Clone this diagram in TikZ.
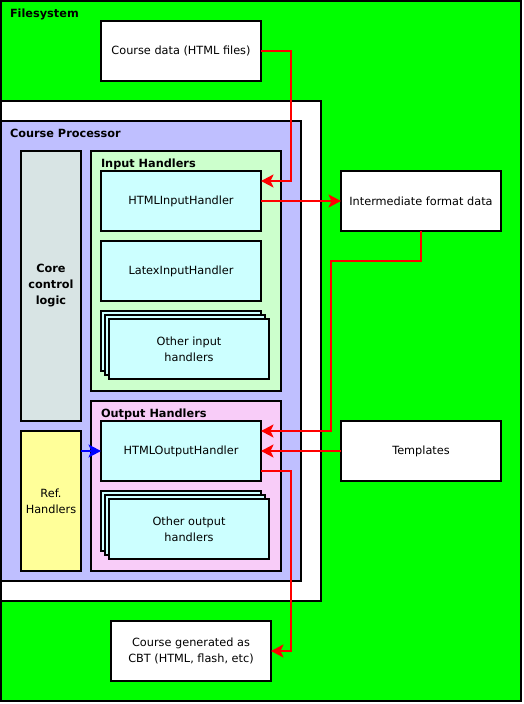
\documentclass[tikz,border=0pt]{standalone}
\usepackage{fontspec}
\setmainfont{DejaVu Sans}
\usepackage{tikz}
\usetikzlibrary{arrows.meta}
\definecolor{fsgreen}{HTML}{00FF00}
\definecolor{cplav}{HTML}{BFBFFF}
\definecolor{ingreen}{HTML}{CCFFCC}
\definecolor{outpink}{HTML}{F8CCF8}
\definecolor{hcyan}{HTML}{CCFFFF}
\definecolor{coregray}{HTML}{D8E4E4}
\definecolor{refyellow}{HTML}{FFFF99}

\begin{document}
\begin{tikzpicture}[x=1pt,y=-1pt,>={Stealth[length=12.5pt,width=13pt,inset=3pt]},
		every node/.style={font=\fontsize{11.3}{16}\selectfont,inner sep=0pt,outer sep=0pt},
		every text node part/.style={align=center}]
		\tikzstyle{region}=[draw=black,line width=2pt]
		\tikzstyle{box}=[draw=black,line width=2pt,minimum width=160pt,minimum height=60pt]
		\tikzstyle{handler}=[box,fill=hcyan]
		\tikzstyle{title}=[anchor=base west,font=\fontsize{11.3}{16}\selectfont\bfseries]
		\tikzstyle{flow}=[->,draw=red,line width=2pt]
		\useasboundingbox (0,0) rectangle (524,704);
		
		\node[region,fill=fsgreen,minimum width=520pt,minimum height=700pt] (fs) at (261,351) {};
		\node[title] (fstitle) at (10,17) {Filesystem};
		\node[region,fill=white,minimum width=320pt,minimum height=500pt] (proc) at (161,351) {};
		\node[region,fill=cplav,minimum width=300pt,minimum height=460pt] (cp) at (151,351) {};
		\node[title] (cptitle) at (10,137) {Course Processor};
		
		\node[region,fill=coregray,minimum width=60pt,minimum height=270pt,font=\fontsize{11.3}{16}\selectfont\bfseries] (core) at (51,286) {Core\\control\\logic};
		\node[region,fill=refyellow,minimum width=60pt,minimum height=140pt] (refh) at (51,501) {Ref.\\Handlers};
		
		\node[region,fill=ingreen,minimum width=190pt,minimum height=240pt] (inh) at (186,271) {};
		\node[title] (inhtitle) at (101,167) {Input Handlers};
		\node[handler] (htmlin) at (181,201) {HTMLInputHandler};
		\node[handler] (latexin) at (181,271) {LatexInputHandler};
		\node[handler] (otherinA) at (181,341) {};
		\node[handler] (otherinB) at (185,345) {};
		\node[handler] (otherin) at (189,349) {Other input\\handlers};
		
		\node[region,fill=outpink,minimum width=190pt,minimum height=170pt] (outh) at (186,486) {};
		\node[title] (outhtitle) at (101,417) {Output Handlers};
		\node[handler] (htmlout) at (181,451) {HTMLOutputHandler};
		\node[handler] (otheroutA) at (181,521) {};
		\node[handler] (otheroutB) at (185,525) {};
		\node[handler] (otherout) at (189,529) {Other output\\handlers};
		
		\node[box,fill=white] (course) at (181,51) {Course data (HTML files)};
		\node[box,fill=white] (inter) at (421,201) {Intermediate format data};
		\node[box,fill=white] (templ) at (421,451) {Templates};
		\node[box,fill=white] (cbt) at (191,651) {Course generated as\\CBT (HTML, flash, etc)};
		
		\draw[flow] (course.east) -- ++(30,0) |- ([yshift=20pt]htmlin.east);
		\draw[flow] (htmlin.east) -- (inter.west);
		\draw[flow] (inter.south) -- ++(0,30) -- ++(-90,0) |- ([yshift=20pt]htmlout.east);
		\draw[flow] (templ.west) -- (htmlout.east);
		\draw[flow] ([yshift=-20pt]htmlout.east) -- ++(30,0) |- (cbt.east);
		\draw[flow,draw=blue] (refh.east |- htmlout.west) -- (htmlout.west);
		
\end{tikzpicture}
\end{document}
